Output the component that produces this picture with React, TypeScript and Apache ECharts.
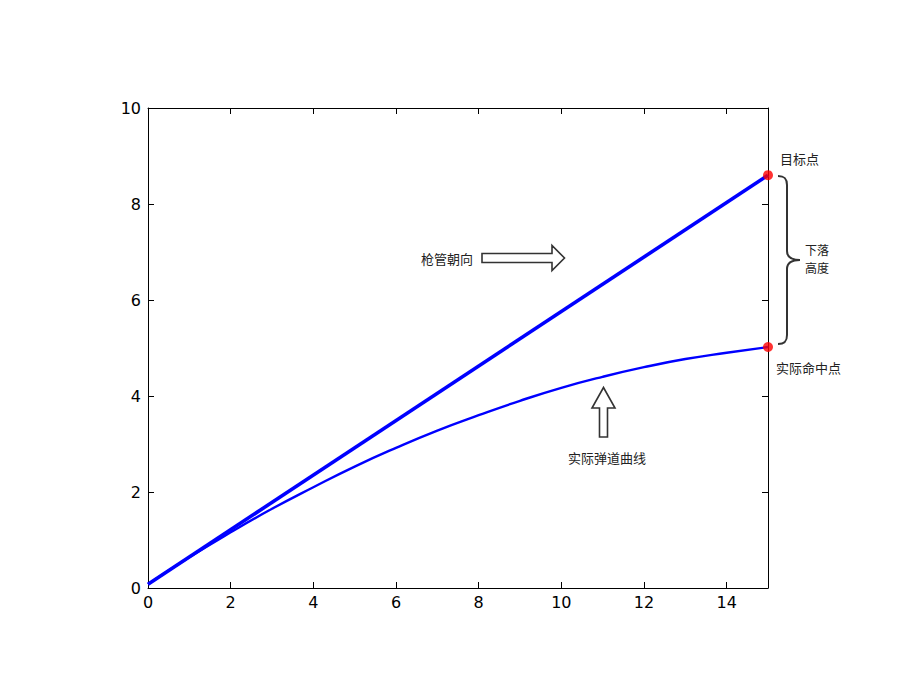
import React, { useEffect, useRef } from "react";
import * as echarts from "echarts";

// Data
const aimX = [0, 15];
const aimY = [0.08, 8.6];
const trajX = [0, 1, 2, 3, 4, 5, 6, 7, 8, 9, 10, 11, 12, 13, 14, 15];
const trajY = [0.08, 0.64, 1.16, 1.65, 2.1, 2.53, 2.92, 3.28, 3.6, 3.9, 4.17, 4.4, 4.6, 4.77, 4.9, 5.02];
const markX = [15, 15];
const markY = [8.6, 5.02];
const xTicks = [0, 2, 4, 6, 8, 10, 12, 14];
const yTicks = [0, 2, 4, 6, 8, 10];

const LEFT = 148, TOP = 108, RIGHT = 768, BOTTOM = 588;

const bracePath =
  "M778,176 C785,176 787,179 787,185 L787,251 C787,256 790,260 800,260 C790,260 787,264 787,269 L787,335 C787,341 785,344 778,344";
echarts.graphic.registerShape("brace", echarts.graphic.extendPath(bracePath, {}) as any);

export default function App() {
  const ref = useRef<HTMLDivElement>(null);
  useEffect(() => {
    if (!ref.current) return;
    const chart = echarts.init(ref.current, null, { renderer: "svg" });
    const tickFont = { fontFamily: "DejaVu Sans", fontSize: 16, color: "#000" };
    const cjk = { fontFamily: "Noto Sans CJK SC", fontSize: 13, lineHeight: 14, fill: "#222" };
    const cjkSmall = { fontFamily: "Noto Sans CJK SC", fontSize: 12, lineHeight: 13, fill: "#222" };
    const arrowStyle = { fill: "#fff", stroke: "#333", lineWidth: 1.6 };
    const axisLine = { onZero: false, lineStyle: { color: "#000", width: 1 } };
    const axisTick = { inside: true, length: 6, lineStyle: { color: "#000" } };
    const xAxisBase = {
      type: "value" as const,
      min: 0,
      max: 15,
      interval: 2,
      splitLine: { show: false },
      axisLine,
      axisTick,
    };
    const yAxisBase = {
      type: "value" as const,
      min: 0,
      max: 10,
      interval: 2,
      splitLine: { show: false },
      axisLine,
      axisTick,
    };
    chart.setOption({
      animation: false,
      backgroundColor: "#fff",
      grid: { left: LEFT, top: TOP, right: 912 - RIGHT, bottom: 680 - BOTTOM, containLabel: false },
      xAxis: [
        {
          ...xAxisBase,
          position: "bottom",
          axisLabel: {
            ...tickFont,
            margin: 6,
            showMaxLabel: false,
            formatter: (v: number) => (xTicks.includes(v) ? String(v) : ""),
          },
        },
        { ...xAxisBase, position: "top", axisLabel: { show: false } },
      ],
      yAxis: [
        {
          ...yAxisBase,
          position: "left",
          axisLabel: {
            ...tickFont,
            margin: 7,
            formatter: (v: number) => (yTicks.includes(v) ? String(v) : ""),
          },
        },
        { ...yAxisBase, position: "right", axisLabel: { show: false } },
      ],
      series: [
        {
          type: "line",
          data: aimX.map((x, i) => [x, aimY[i]]),
          showSymbol: false,
          lineStyle: { color: "#0000ff", width: 3.6 },
          z: 3,
        },
        {
          type: "line",
          data: trajX.map((x, i) => [x, trajY[i]]),
          showSymbol: false,
          smooth: 0.5,
          lineStyle: { color: "#0000ff", width: 2.4 },
          z: 3,
        },
        {
          type: "scatter",
          data: markX.map((x, i) => [x, markY[i]]),
          symbol: "circle",
          symbolSize: 10,
          clip: false,
          itemStyle: { color: "#ff0000" },
          z: 5,
        },
      ],
      graphic: [
        { type: "text", left: 780, top: 151, style: { ...cjk, text: "目标点" } },
        { type: "text", left: 805, top: 243, style: { ...cjkSmall, text: "下落" } },
        { type: "text", left: 805, top: 261, style: { ...cjkSmall, text: "高度" } },
        { type: "text", left: 776, top: 360, style: { ...cjk, text: "实际命中点" } },
        { type: "text", left: 421, top: 251, style: { ...cjk, text: "枪管朝向" } },
        { type: "text", left: 568, top: 450, style: { ...cjk, text: "实际弹道曲线" } },
        {
          type: "polygon",
          shape: {
            points: [
              [482, 253.5], [552, 253.5], [552, 245.5], [564.5, 258], [552, 270.5], [552, 262.5], [482, 262.5],
            ],
          },
          style: arrowStyle,
        },
        {
          type: "polygon",
          shape: {
            points: [
              [599.5, 437], [599.5, 408], [592, 408], [603.5, 387.5], [615, 408], [607.5, 408], [607.5, 437],
            ],
          },
          style: arrowStyle,
        },
        {
          type: "brace",
          x: 0,
          y: 0,
          style: { fill: "none", stroke: "#333", lineWidth: 2 },
        } as any,
      ],
    });
    return () => chart.dispose();
  }, []);
  return (
    <div
      ref={ref}
      style={{ position: "fixed", left: 0, top: 0, width: 912, height: 680, background: "#fff" }}
    />
  );
}
